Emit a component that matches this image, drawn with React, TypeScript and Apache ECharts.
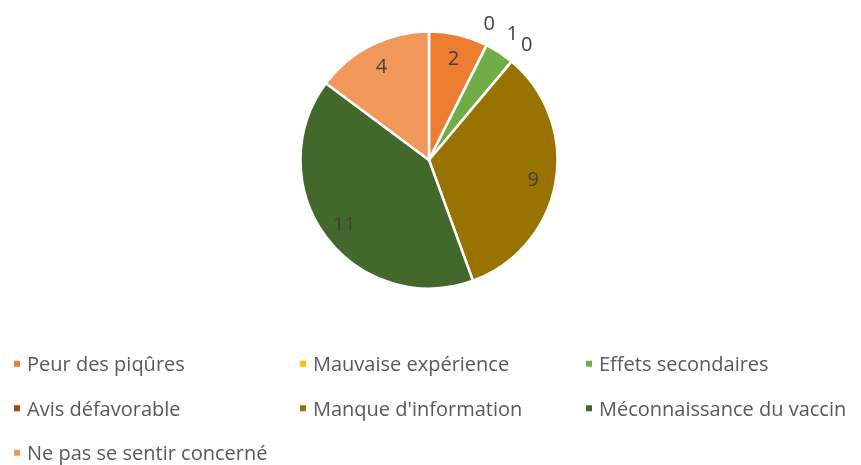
import React, { useEffect, useRef } from "react";
import * as echarts from "echarts";

const categories = [
  "Peur des piqûres",
  "Mauvaise expérience",
  "Effets secondaires",
  "Avis défavorable",
  "Manque d'information",
  "Méconnaissance du vaccin",
  "Ne pas se sentir concerné",
];
const values = [2, 0, 1, 0, 9, 11, 4];
const colors = ["#ED7D31", "#FFC000", "#70AD47", "#9E480E", "#997300", "#43682B", "#F1975A"];

const FONT = "'Open Sans', sans-serif";

export default function App() {
  const ref = useRef<HTMLDivElement>(null);
  useEffect(() => {
    if (!ref.current) return;
    const chart = echarts.init(ref.current, undefined, { renderer: "svg" });
    const R = 128.5;
    const center = [429, 160];
    const labelStyle = { color: "#404040", fontSize: 20, fontFamily: FONT };
    chart.setOption({
      animation: false,
      legend: {
        left: 12,
        top: 341.5,
        padding: 0,
        width: 860,
        itemGap: 0,
        itemWidth: 8,
        itemHeight: 8,
        icon: "rect",
        data: categories,
        selectedMode: false,
        textStyle: {
          color: "#595959",
          fontSize: 20,
          fontFamily: FONT,
          width: 271,
          lineHeight: 44.5,
          padding: [0, 0, 0, 1],
        },
      },
      series: [
        {
          type: "pie",
          center,
          radius: [0, R],
          startAngle: 90,
          clockwise: true,
          silent: true,
          label: { show: false },
          labelLine: { show: false },
          itemStyle: { borderColor: "#ffffff", borderWidth: 2.5 },
          data: categories.map((name, i) => ({
            name,
            value: values[i],
            itemStyle: { color: colors[i] },
          })),
        },
        {
          type: "pie",
          center,
          radius: [R * 0.6, R],
          startAngle: 90,
          clockwise: true,
          silent: true,
          legendHoverLink: false,
          itemStyle: { color: "rgba(0,0,0,0)", borderWidth: 0 },
          labelLine: { show: false },
          data: categories.map((name, i) => ({
            name,
            value: values[i],
            label: { show: values[i] > 1, position: "inside", formatter: "{c}", ...labelStyle },
          })),
        },
        {
          type: "pie",
          center,
          radius: [R, R * 1.32],
          startAngle: 90,
          clockwise: true,
          silent: true,
          legendHoverLink: false,
          itemStyle: { color: "rgba(0,0,0,0)", borderWidth: 0 },
          labelLine: { show: false },
          data: categories.map((name, i) => ({
            name,
            value: values[i],
            label: {
              show: values[i] <= 1,
              position: "inside",
              formatter: "{c}",
              offset: i === 1 ? [-8, -2] : [0, 0],
              ...labelStyle,
            },
          })),
        },
      ],
    });
    return () => chart.dispose();
  }, []);
  return (
    <div
      ref={ref}
      style={{ position: "fixed", left: 0, top: 0, width: 861, height: 465, overflow: "visible" }}
    />
  );
}
